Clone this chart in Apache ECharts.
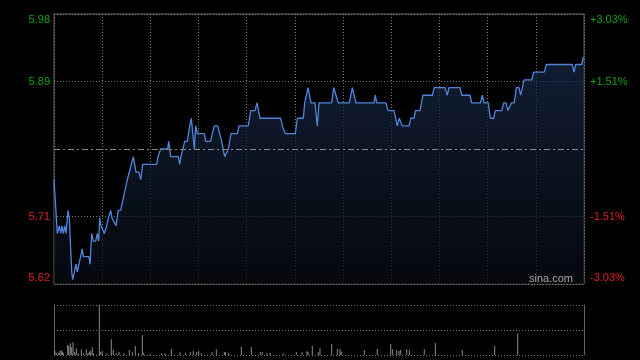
<!DOCTYPE html>
<html>
<head>
<meta charset="utf-8">
<script src="https://cdn.jsdelivr.net/npm/echarts@6/dist/echarts.min.js"></script>
<style>
html,body{margin:0;padding:0;background:#000;}
#c{width:640px;height:360px;}
</style>
</head>
<body>
<div id="c"></div>
<script>
// previous close and symmetric percent range
var preClose = 5.80;
var pctRange = 3.03;

// tick labels (bottom -> top)
var leftTickLabels = ['5.62', '5.71', '', '5.89', '5.98'];
var rightTickLabels = ['-3.03%', '-1.51%', '', '+1.51%', '+3.03%'];

// intraday price: position along the session (chart units 0..530) and price
var priceTime = [0,3.3,5.3,6.7,8,9.3,10.7,12,14,15.3,17.7,18.7,20.7,22,23.3,28.3,29.3,35,36,37.7,39.3,41.7,43.3,44.7,45.7,47,48.7,50.3,52.7,54.3,56.7,58,60,62,64.3,66.7,73.3,75,79.3,82,85,86.7,88.7,102.7,104,105,106.7,113.7,114.7,115.7,116.7,124.3,125.7,127,129,130.7,133.3,135.7,137.3,140.3,141.7,143.3,150.3,151.7,156.7,158.3,160.3,163.7,167.7,169,170.7,172.3,174.3,177,183.3,185,194.3,196.7,201,203,204.3,206,226.7,228.3,229.7,231.3,241.3,243.3,249.3,250.7,254,255.3,257,261,263.3,265,277.7,279.7,281.3,284.3,295.3,298.3,300,302,320,321.3,322.7,332,334,340,343.3,345.3,346.7,348.3,355,356.7,360,361.5,366,369,378.3,380.3,391,393.3,395,406,407.7,416,417.7,426.5,428.3,430,434.3,436.3,439.7,441.3,447.7,449.7,452,454,455.7,457.3,460.3,462.3,465,466.7,470,477.7,479.7,490.3,492.3,518.3,520,521.7,527.7,529.3,530];
var priceValue = [5.76,5.69,5.70,5.69,5.70,5.69,5.70,5.69,5.72,5.71,5.64,5.63,5.63,5.65,5.64,5.67,5.66,5.66,5.65,5.69,5.68,5.68,5.69,5.68,5.71,5.70,5.70,5.69,5.70,5.71,5.72,5.71,5.71,5.70,5.72,5.72,5.76,5.76,5.79,5.77,5.77,5.76,5.78,5.78,5.79,5.79,5.80,5.80,5.81,5.80,5.79,5.79,5.78,5.79,5.79,5.81,5.81,5.83,5.84,5.80,5.83,5.82,5.82,5.81,5.81,5.82,5.83,5.83,5.81,5.81,5.79,5.79,5.80,5.82,5.82,5.83,5.83,5.85,5.85,5.86,5.86,5.84,5.84,5.83,5.83,5.82,5.82,5.84,5.84,5.86,5.88,5.88,5.86,5.86,5.83,5.86,5.86,5.88,5.88,5.86,5.86,5.88,5.88,5.86,5.86,5.87,5.86,5.86,5.85,5.85,5.83,5.84,5.84,5.83,5.83,5.84,5.84,5.85,5.85,5.87,5.87,5.88,5.88,5.87,5.88,5.88,5.87,5.87,5.86,5.86,5.87,5.86,5.86,5.84,5.84,5.85,5.85,5.86,5.86,5.85,5.85,5.86,5.86,5.88,5.88,5.87,5.89,5.89,5.90,5.90,5.91,5.91,5.90,5.91,5.91,5.92,5.92];

// volume bars: position and volume
var volTime = [1,2.7,4.7,6,7.3,8.3,9.3,13.7,14.7,16.3,17.3,19,20.7,22.3,24,27.3,29.3,32.3,34,35.3,36.7,38.3,39.3,45.3,46.7,48.3,52.7,57.3,59.3,62.7,65,70,75.3,78.3,81.3,84.7,88.3,89.3,96,107.3,111,117.3,126,131.3,136.3,139.3,142.7,144.7,147.3,158,162.3,170.3,171.3,174.7,187.3,197.3,206.3,208.3,212.7,216,229.3,242.3,248,253,254,258.3,264.3,266,277.7,283.3,286,287.3,310.3,323.3,336.7,338.7,342.7,345,346.7,352.7,355.3,370.3,381.3,408.3,440.7,463.7];
var volValue = [400,230,230,400,500,330,230,1000,900,1170,770,1270,330,670,170,570,170,570,170,330,430,770,170,5000,300,400,170,1570,500,170,300,170,500,300,900,170,2000,230,100,170,170,600,270,230,300,400,300,400,170,300,600,300,300,230,800,800,300,300,170,230,170,300,300,400,300,900,300,670,1100,600,600,330,500,600,1100,570,500,400,500,570,470,600,1200,500,900,2170];
var volMax = 5000;

var FONT = 'Arial, "Liberation Sans", sans-serif';
var GREEN = '#0fa30f';
var RED = '#e0201c';

var pMin = preClose * (1 - pctRange / 100);
var pMax = preClose * (1 + pctRange / 100);
var pInterval = (pMax - pMin) / 4;

var priceData = priceTime.map(function (t, i) { return [t, priceValue[i]]; });
var volData = volTime.map(function (t, i) { return [t, volValue[i]]; });

var rich = {
  gt: {color: GREEN, fontSize: 11, fontFamily: FONT, padding: [12, 0, 0, 0]},
  g:  {color: GREEN, fontSize: 11, fontFamily: FONT},
  r:  {color: RED, fontSize: 11, fontFamily: FONT},
  rb: {color: RED, fontSize: 11, fontFamily: FONT, padding: [0, 0, 12, 0]}
};
var styleKeys = ['rb', 'r', '', 'g', 'gt'];
function fmt(labels) {
  return function (v, i) {
    var s = labels[i];
    if (!s) return '';
    return '{' + styleKeys[i] + '|' + s + '}';
  };
}

var chart = echarts.init(document.getElementById('c'), null, {renderer: 'canvas'});
chart.setOption({
  backgroundColor: '#000',
  animation: false,
  grid: [
    {left: 54, width: 530, top: 14, height: 270, show: true, borderColor: '#666', borderWidth: 1, backgroundColor: 'transparent'},
    {left: 54, width: 530, top: 305, height: 50, show: false}
  ],
  xAxis: [
    {type: 'value', gridIndex: 0, min: 0, max: 530, interval: 530 / 11,
      axisLine: {show: false}, axisTick: {show: false}, axisLabel: {show: false},
      splitLine: {show: true, lineStyle: {color: '#7a7a7a', type: [1, 2], width: 1}}},
    {type: 'value', gridIndex: 1, min: 0, max: 530,
      axisLine: {show: false}, axisTick: {show: false}, axisLabel: {show: false}, splitLine: {show: false}}
  ],
  yAxis: [
    {type: 'value', gridIndex: 0, position: 'left', min: pMin, max: pMax, interval: pInterval,
      axisLine: {show: false}, axisTick: {show: false},
      axisLabel: {margin: 4, formatter: fmt(leftTickLabels), rich: rich, showMinLabel: true, showMaxLabel: true},
      splitLine: {show: true, lineStyle: {color: ['#7a7a7a', '#7a7a7a', 'rgba(0,0,0,0)', '#7a7a7a', '#7a7a7a'], type: [1, 2], width: 1}}},
    {type: 'value', gridIndex: 0, position: 'right', min: -pctRange, max: pctRange, interval: pctRange / 2,
      axisLine: {show: false}, axisTick: {show: false},
      axisLabel: {margin: 6, formatter: fmt(rightTickLabels), rich: rich, showMinLabel: true, showMaxLabel: true},
      splitLine: {show: false}},
    {type: 'value', gridIndex: 1, position: 'left', min: 0, max: volMax, interval: volMax / 2,
      axisLine: {show: true, lineStyle: {color: '#666', width: 1}}, axisTick: {show: false}, axisLabel: {show: false},
      splitLine: {show: true, lineStyle: {color: '#7a7a7a', type: [1, 2], width: 1}}},
    {type: 'value', gridIndex: 1, position: 'right', min: 0, max: volMax,
      axisLine: {show: true, lineStyle: {color: '#666', width: 1}}, axisTick: {show: false}, axisLabel: {show: false},
      splitLine: {show: false}}
  ],
  series: [
    {type: 'line', xAxisIndex: 0, yAxisIndex: 0, data: priceData, symbol: 'none', smooth: false,
      lineStyle: {color: '#4f86dc', width: 1.3},
      areaStyle: {color: new echarts.graphic.LinearGradient(0, 0, 0, 1, [
        {offset: 0, color: '#172a48'}, {offset: 1, color: '#080b12'}])},
      markLine: {silent: true, symbol: ['none', 'none'], label: {show: false},
        lineStyle: {color: '#8a8a8a', type: [6, 3, 2, 3], width: 1},
        data: [{yAxis: preClose}]},
      z: 3},
    {type: 'bar', xAxisIndex: 1, yAxisIndex: 2, data: volData, barWidth: 1,
      itemStyle: {color: '#8c8c8c'}}
  ],
  graphic: [
    {type: 'text', right: 67, top: 273, style: {text: 'sina.com', fill: '#a8a8a8', font: '11px ' + FONT}, z: 10}
  ]
});
</script>
</body>
</html>
